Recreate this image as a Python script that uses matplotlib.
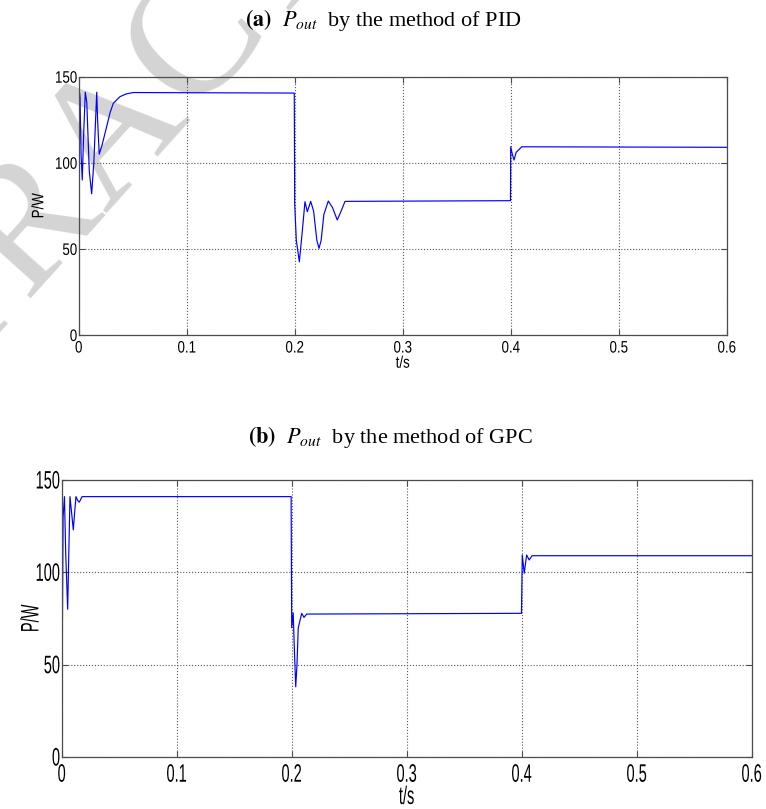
import matplotlib
matplotlib.use("Agg")
import matplotlib.pyplot as plt
from matplotlib.patheffects import AbstractPathEffect
from matplotlib.transforms import Affine2D

# (a) PID response
t_pid = [0, 0.0004, 0.0007, 0.0012, 0.0022, 0.0033, 0.0045, 0.0061, 0.0075, 0.0098,
         0.012, 0.014, 0.0167, 0.0175, 0.019, 0.0215, 0.0259, 0.029, 0.032, 0.0382,
         0.044, 0.0506, 0.1996, 0.2, 0.2015, 0.2043, 0.207, 0.2095, 0.2117, 0.2148,
         0.2175, 0.2205, 0.2225, 0.2245, 0.227, 0.2311, 0.235, 0.2394, 0.243, 0.2466,
         0.3998, 0.4, 0.4015, 0.4031, 0.405, 0.4102, 0.6]
p_pid = [0, 60, 141, 138, 105, 90, 115, 141, 135, 95,
         82, 100, 141, 125, 105, 110, 121, 129, 134.5, 138.4,
         140, 140.8, 140.5, 76, 55, 42.5, 60, 77.4, 71.6, 77.6,
         72, 55, 50.3, 55, 70, 77.8, 74, 66.8, 72, 77.6,
         78, 109.3, 105, 101.6, 106, 109.3, 109]

# (b) GPC response
t_gpc = [0, 0.0005, 0.0012, 0.0024, 0.0035, 0.0052, 0.006, 0.0072, 0.0085, 0.0101,
         0.0112, 0.0124, 0.0138, 0.0153, 0.0177, 0.1995, 0.2, 0.2013, 0.2025, 0.2035,
         0.2046, 0.2057, 0.2087, 0.2107, 0.213, 0.3998, 0.4005, 0.4022, 0.4043, 0.4065,
         0.409, 0.6]
p_gpc = [0, 60, 130, 141, 110, 80, 105, 141, 133, 123,
         132, 141, 139, 138, 141, 141, 70, 78, 55, 38,
         50, 70, 77.8, 75.6, 77.4, 77.8, 109.4, 99.5, 109.4, 106.7,
         109, 109]

x_ticks = [0, 0.1, 0.2, 0.3, 0.4, 0.5, 0.6]
x_labels = ["0", "0.1", "0.2", "0.3", "0.4", "0.5", "0.6"]
y_ticks = [0, 50, 100, 150]


class Squeeze(AbstractPathEffect):
    # narrow the glyphs like the condensed MATLAB font
    def __init__(self, sx, sy=1.0, anchor="center"):
        super().__init__()
        self.sx, self.sy, self.anchor = sx, sy, anchor

    def draw_path(self, renderer, gc, tpath, affine, rgbFace=None):
        ext = tpath.get_extents()
        cx = ext.x1 if self.anchor == "right" else (ext.x0 + ext.x1) / 2
        cy = (ext.y0 + ext.y1) / 2
        pre = Affine2D().translate(-cx, -cy).scale(self.sx, self.sy).translate(cx, cy)
        renderer.draw_path(gc, tpath, pre + affine, rgbFace)


plt.rcParams["mathtext.fontset"] = "stix"
sans = "Liberation Sans"

fig = plt.figure(figsize=(7.66, 8.09), dpi=100)

# faint watermark behind everything
fig.text(120 / 766, 1 - 130 / 809, "RETRACTED", fontsize=128, family="Liberation Serif",
         color="#d4d4d4", rotation=48, rotation_mode="anchor",
         ha="center", va="center", zorder=-1)


def panel(rect, t, p, fs, sx, sy, pad, xl, yl):
    ax = fig.add_axes(rect)
    ax.set_facecolor("none")
    ax.plot(t, p, color="#0000ff", lw=0.85)
    ax.set_xlim(0, 0.6)
    ax.set_ylim(0, 150)
    ax.set_xticks(x_ticks)
    ax.set_xticklabels(x_labels)
    ax.set_yticks(y_ticks)
    ax.grid(True, linestyle=":", color="0.35", lw=0.8)
    ax.tick_params(direction="in", length=4, top=True, right=True, labelsize=fs,
                   color="0.3")
    ax.tick_params(axis="x", pad=pad)
    ax.tick_params(axis="y", pad=1)
    for lab in ax.get_xticklabels():
        lab.set_family(sans)
        lab.set_path_effects([Squeeze(sx, sy)])
    for lab in ax.get_yticklabels():
        lab.set_family(sans)
        lab.set_path_effects([Squeeze(sx, sy, "right")])
    for s in ax.spines.values():
        s.set_color("0.3")
        s.set_linewidth(0.9)
    ax.set_xlabel("t/s", family=sans, fontsize=fs,
                  path_effects=[Squeeze(sx, sy)])
    ax.set_ylabel("P/W", family=sans, fontsize=fs,
                  path_effects=[Squeeze(sx, sy)])
    ax.xaxis.set_label_coords(0.5, xl)
    ax.yaxis.set_label_coords(yl, 0.5)
    return ax


panel([78.7 / 766, 1 - 335 / 809, 648 / 766, 258.3 / 809], t_pid, p_pid,
      12, 0.8, 1.0, 4, -0.08, -0.05)
panel([61.7 / 766, 1 - 757 / 809, 690 / 766, 277 / 809], t_gpc, p_gpc,
      14, 0.75, 1.3, 7, -0.115, -0.031)

fig.text(383 / 766, 1 - 20 / 809, r"$\mathbf{(a)}$  $P_{out}$  by the method of PID",
         family="Liberation Serif", fontsize=16, ha="center", va="center")
fig.text(390 / 766, 1 - 437 / 809, r"$\mathbf{(b)}$  $P_{out}$  by the method of GPC",
         family="Liberation Serif", fontsize=16, ha="center", va="center")

fig.savefig("out.png", dpi=100)
